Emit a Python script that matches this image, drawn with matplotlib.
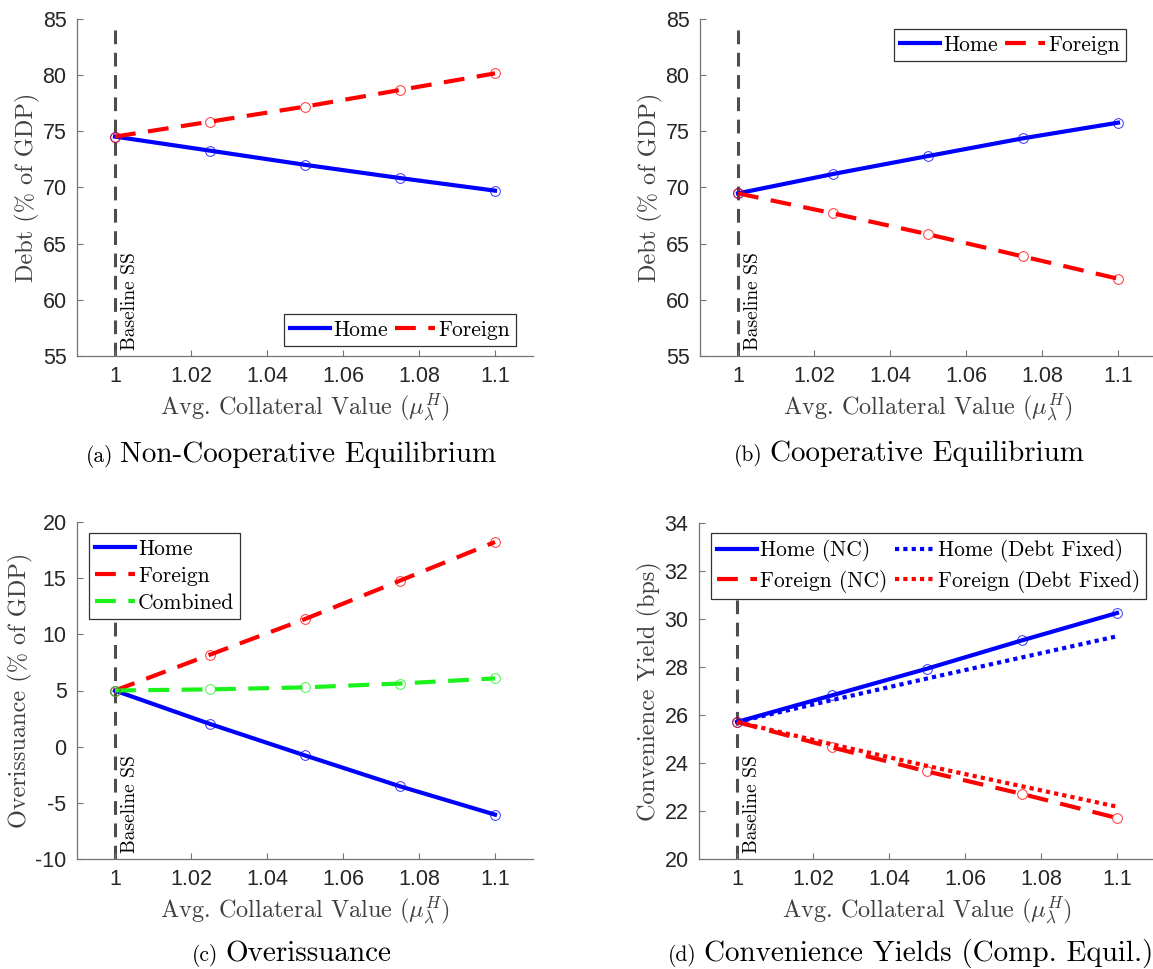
import numpy as np
import matplotlib
matplotlib.use("Agg")
import matplotlib.pyplot as plt

plt.rcParams["mathtext.fontset"] = "cm"
plt.rcParams["axes.unicode_minus"] = False

#%% Data

mu = [1.0, 1.025, 1.05, 1.075, 1.1]

# (a) Non-cooperative debt
nc_home = [74.53, 73.28, 72.02, 70.84, 69.72]
nc_foreign = [74.53, 75.86, 77.20, 78.68, 80.16]

# (b) Cooperative debt
co_home = [69.48, 71.20, 72.80, 74.38, 75.77]
co_foreign = [69.48, 67.70, 65.84, 63.86, 61.88]

# (c) Overissuance
ov_home = [4.99, 2.02, -0.78, -3.53, -6.05]
ov_foreign = [5.0, 8.19, 11.36, 14.78, 18.22]
ov_combined = [5.0, 5.10, 5.28, 5.62, 6.08]

# (d) Convenience yields
cy_home_nc = [25.71, 26.82, 27.93, 29.11, 30.25]
cy_home_fix = [25.71, 26.62, 27.52, 28.40, 29.28]
cy_foreign_nc = [25.71, 24.65, 23.65, 22.71, 21.71]
cy_foreign_fix = [25.71, 24.78, 23.88, 23.03, 22.18]

xticks = [1, 1.02, 1.04, 1.06, 1.08, 1.1]
xticklabels = ["1", "1.02", "1.04", "1.06", "1.08", "1.1"]

#%% Styles

SERIF = "cmr10"
SANS = "Liberation Sans"
BLUE = (0, 0, 1)
RED = (1, 0, 0)
GREEN = (0.1, 0.95, 0.1)
DASH = (0, (5.0, 3.0))
DOT = (0, (1.0, 1.0))
LW = 3.0

W, H = 1153, 969
fig = plt.figure(figsize=(W / 100, H / 100), dpi=100)


def make_ax(l, t, r, b):
    return fig.add_axes([l / W, 1 - b / H, (r - l) / W, (b - t) / H])


def style(ax, ylim, yticks, ylabel):
    ax.set_xlim(0.99, 1.11)
    ax.set_ylim(*ylim)
    ax.set_xticks(xticks)
    ax.set_xticklabels(xticklabels)
    ax.set_yticks(yticks)
    ax.set_yticklabels([str(v) for v in yticks])
    for s in ["top", "right"]:
        ax.spines[s].set_visible(False)
    for s in ["left", "bottom"]:
        ax.spines[s].set_color((0.45, 0.45, 0.45))
        ax.spines[s].set_linewidth(0.9)
    ax.tick_params(direction="in", length=4, width=0.8, color=(0.45, 0.45, 0.45),
                   labelsize=15.5, labelcolor=(0.15, 0.15, 0.15), pad=7.5)
    for lab in ax.get_xticklabels() + ax.get_yticklabels():
        lab.set_fontfamily(SANS)
    ax.set_xlabel(r"Avg. Collateral Value $(\mu_\lambda^H)$", family=SERIF,
                  fontsize=17.5, color=(0.25, 0.25, 0.25), labelpad=3)
    ax.set_ylabel(ylabel, family=SERIF, fontsize=17.5, color=(0.25, 0.25, 0.25),
                  labelpad=1.5)
    # baseline steady state marker
    ax.axvline(1.0, ymax=0.976, color=(0.3, 0.3, 0.3), lw=2.2,
               linestyle=(0, (4.5, 2.8)), zorder=1)
    y0 = ylim[0] + 0.018 * (ylim[1] - ylim[0])
    ax.text(1.0017, y0, "Baseline SS", rotation=90, family=SERIF, fontsize=14,
            ha="left", va="bottom", color="k")


def series(ax, y, color, ls, label, marker=True):
    ax.plot(mu, y, color=color, lw=LW, linestyle=ls, label=label,
            dash_capstyle="butt", zorder=3)
    if marker:
        ax.plot(mu, y, linestyle="none", marker="o", ms=7, mfc="none",
                mec=color, mew=0.7, alpha=0.8, zorder=4)


def legend(ax, ncol, **kw):
    leg = ax.legend(ncol=ncol, fancybox=False, framealpha=1, borderpad=0.28,
                    handlelength=1.85, handletextpad=0.15, columnspacing=0.35,
                    labelspacing=0.35, borderaxespad=0.0,
                    prop={"family": SERIF, "size": 15.5}, **kw)
    leg.get_frame().set_edgecolor((0.2, 0.2, 0.2))
    leg.get_frame().set_linewidth(0.9)
    return leg


#%% (a) Non-cooperative equilibrium
ax = make_ax(77, 19, 533, 356)
series(ax, nc_home, BLUE, "-", "Home")
series(ax, nc_foreign, RED, DASH, "Foreign")
style(ax, (55, 85), [55, 60, 65, 70, 75, 80, 85], "Debt (% of GDP)")
legend(ax, 2, loc="lower right", bbox_to_anchor=(0.963, 0.030))

#%% (b) Cooperative equilibrium
ax = make_ax(700, 19, 1156, 356)
series(ax, co_home, BLUE, "-", "Home")
series(ax, co_foreign, RED, DASH, "Foreign")
style(ax, (55, 85), [55, 60, 65, 70, 75, 80, 85], "Debt (% of GDP)")
legend(ax, 2, loc="upper right", bbox_to_anchor=(0.934, 0.970))

#%% (c) Overissuance
ax = make_ax(77, 522, 533, 859)
series(ax, ov_home, BLUE, "-", "Home")
series(ax, ov_foreign, RED, DASH, "Foreign")
series(ax, ov_combined, GREEN, DASH, "Combined")
style(ax, (-10, 20), [-10, -5, 0, 5, 10, 15, 20], "Overissuance (% of GDP)")
legend(ax, 1, loc="upper left", bbox_to_anchor=(0.026, 0.967))

#%% (d) Convenience yields
ax = make_ax(699, 523, 1155, 859)
series(ax, cy_home_nc, BLUE, "-", "Home (NC)")
series(ax, cy_foreign_nc, RED, DASH, "Foreign (NC)")
series(ax, cy_home_fix, BLUE, DOT, "Home (Debt Fixed)", marker=False)
series(ax, cy_foreign_fix, RED, DOT, "Foreign (Debt Fixed)", marker=False)
style(ax, (20, 34), [20, 22, 24, 26, 28, 30, 32, 34], "Convenience Yield (bps)")
legend(ax, 2, loc="upper left", bbox_to_anchor=(0.026, 0.970))

#%% Captions
captions = [
    (113, 462, "(a)", "Non-Cooperative Equilibrium"),
    (763, 461, "(b)", "Cooperative Equilibrium"),
    (218, 961, "(c)", "Overissuance"),
    (697, 961, "(d)", "Convenience Yields (Comp. Equil.)"),
]
for x, y, tag, title in captions:
    fig.text(x / W, 1 - y / H, tag, family=SERIF, fontsize=15.5, ha="right", va="baseline")
    fig.text((x + 7) / W, 1 - y / H, title, family=SERIF, fontsize=21, ha="left", va="baseline")

fig.savefig("out.png", dpi=100)
